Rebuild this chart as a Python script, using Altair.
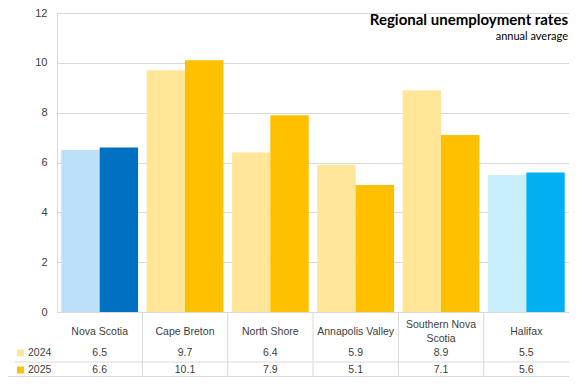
import altair as alt
import pandas as pd

categories = ["Nova Scotia", "Cape Breton", "North Shore", "Annapolis Valley", "Southern Nova Scotia", "Halifax"]
cat_labels = ["Nova Scotia", "Cape Breton", "North Shore", "Annapolis Valley", "Southern Nova\nScotia", "Halifax"]
years = ["2024", "2025"]
v2024 = [6.5, 9.7, 6.4, 5.9, 8.9, 5.5]
v2025 = [6.6, 10.1, 7.9, 5.1, 7.1, 5.6]
c2024 = ["#BDE0FA", "#FFE699", "#FFE699", "#FFE699", "#FFE699", "#C8EFFC"]
c2025 = ["#0070C0", "#FFC000", "#FFC000", "#FFC000", "#FFC000", "#00B0F0"]
y_ticks = [0, 2, 4, 6, 8, 10, 12]
title_text = "Regional unemployment rates"
subtitle_text = "annual average"

rows = []
for i, cat in enumerate(categories):
    rows.append({"cat": cat, "year": years[0], "value": v2024[i], "color": c2024[i], "label": cat_labels[i]})
    rows.append({"cat": cat, "year": years[1], "value": v2025[i], "color": c2025[i], "label": cat_labels[i]})
df = pd.DataFrame(rows)

W, H = 512, 299
GRID = "#D9D9D9"
TXT = "#404040"
FONT = "Liberation Sans"

xscale = alt.Scale(domain=categories, paddingInner=0, paddingOuter=0)
xaxis = alt.Axis(labels=False, ticks=False, title=None, grid=False, domainColor=GRID, domainWidth=1)


def X(**kw):
    return alt.X("cat:N", sort=categories, scale=xscale, axis=xaxis, **kw)


base = alt.Chart(df)

bars = base.mark_bar().encode(
    x=X(),
    xOffset=alt.XOffset("year:N", sort=years, scale=alt.Scale(paddingInner=0, paddingOuter=0.111)),
    y=alt.Y(
        "value:Q",
        scale=alt.Scale(domain=[0, 12], nice=False),
        axis=alt.Axis(
            values=y_ticks, title=None, grid=True, gridColor=GRID, domain=False, ticks=False,
            tickSize=0, labelPadding=10, labelFontSize=11, labelColor=TXT, labelFont=FONT,
        ),
    ),
    color=alt.Color("color:N", scale=None),
)

first = base.transform_filter(alt.datum.year == years[0])
cat_text1 = first.transform_filter("indexof(datum.label, '\\n') < 0").mark_text(
    font=FONT, fontSize=10.5, color=TXT, baseline="middle"
).encode(x=X(), y=alt.value(H + 20), text="label:N")
cat_text2 = first.transform_filter("indexof(datum.label, '\\n') >= 0").mark_text(
    font=FONT, fontSize=10.5, color=TXT, baseline="middle", lineBreak="\n", lineHeight=14.5, dy=-7.25
).encode(x=X(), y=alt.value(H + 20), text="label:N")

val24 = first.mark_text(
    font=FONT, fontSize=10.5, color=TXT, baseline="middle"
).encode(x=X(), y=alt.value(H + 41), text=alt.Text("value:Q", format=".1f"))

val25 = base.transform_filter(alt.datum.year == years[1]).mark_text(
    font=FONT, fontSize=10.5, color=TXT, baseline="middle"
).encode(x=X(), y=alt.value(H + 58), text=alt.Text("value:Q", format=".1f"))

sep = alt.Chart(pd.DataFrame({"cat": categories[1:]})).mark_rule(color=GRID, strokeWidth=1).encode(
    x=X(bandPosition=0), y=alt.value(H), y2=alt.value(H + 65)
)

one = pd.DataFrame({"a": [0]})
hline1 = alt.Chart(one).mark_rule(color=GRID, strokeWidth=1).encode(
    x=alt.value(-42), x2=alt.value(W), y=alt.value(H + 50)
)
hline2 = alt.Chart(one).mark_rule(color=GRID, strokeWidth=1).encode(
    x=alt.value(-49), x2=alt.value(W), y=alt.value(H + 64.5)
)

sw24 = alt.Chart(one).mark_rect(color=c2024[1]).encode(
    x=alt.value(-40), x2=alt.value(-33), y=alt.value(H + 37.5), y2=alt.value(H + 44.5)
)
sw25 = alt.Chart(one).mark_rect(color=c2025[1]).encode(
    x=alt.value(-40), x2=alt.value(-33), y=alt.value(H + 54.5), y2=alt.value(H + 61.5)
)
yr_df = pd.DataFrame({"year": years})
yr24 = alt.Chart(yr_df).transform_filter(alt.datum.year == years[0]).mark_text(
    font=FONT, fontSize=10.5, color=TXT, align="left", baseline="middle"
).encode(x=alt.value(-29), y=alt.value(H + 41), text="year:N")
yr25 = alt.Chart(yr_df).transform_filter(alt.datum.year == years[1]).mark_text(
    font=FONT, fontSize=10.5, color=TXT, align="left", baseline="middle"
).encode(x=alt.value(-29), y=alt.value(H + 58), text="year:N")

title = alt.Chart(pd.DataFrame({"t": [title_text]})).mark_text(
    font="Lato", fontSize=15, fontWeight="bold", color="#000000", align="right", baseline="middle"
).encode(x=alt.value(W - 1), y=alt.value(7), text="t:N")
subtitle = alt.Chart(pd.DataFrame({"t": [subtitle_text]})).mark_text(
    font="Lato", fontSize=11, color="#000000", align="right", baseline="middle"
).encode(x=alt.value(W - 1), y=alt.value(24), text="t:N")

chart = alt.layer(
    bars, sep, hline1, hline2, cat_text1, cat_text2, val24, val25, sw24, sw25, yr24, yr25, title, subtitle
).properties(
    width=W, height=H,
    padding={"left": 49, "top": 5, "right": 0, "bottom": 65},
    autosize=alt.AutoSizeParams(type="none"),
).configure_view(stroke=None).configure(background="white")

chart.save("out.html", embed_options={"renderer": "svg", "actions": False})
